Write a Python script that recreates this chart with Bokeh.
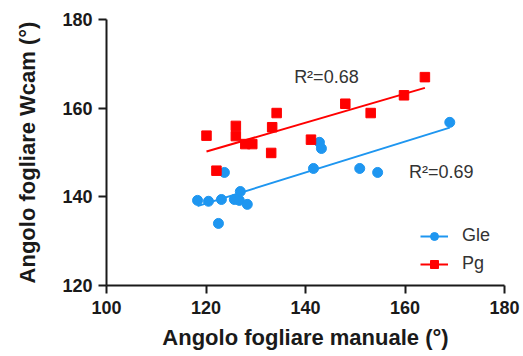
import numpy as np
from bokeh.plotting import figure
from bokeh.models import Range1d, FixedTicker, Label, Legend, LegendItem
from bokeh.embed import file_html
from bokeh.resources import INLINE

# ---- data ----
gle_x = [118.3, 120.5, 122.5, 123.1, 123.7, 125.7, 126.7, 126.9, 128.3, 141.6, 142.8, 143.2, 150.9, 154.5, 169.0]
gle_y = [139.2, 139.0, 134.0, 139.4, 145.5, 139.4, 139.2, 141.2, 138.3, 146.4, 152.3, 150.9, 146.4, 145.5, 156.8]

pg_x = [120.1, 122.1, 126.0, 126.0, 127.9, 129.3, 133.1, 133.3, 134.2, 141.1, 148.0, 153.1, 159.8, 164.0]
pg_y = [153.8, 145.9, 156.0, 153.7, 151.9, 151.9, 149.9, 155.7, 158.9, 152.9, 161.0, 158.9, 162.9, 167.0]

series_names = ["Gle", "Pg"]
r2_labels = ["R\u00b2=0.69", "R\u00b2=0.68"]
x_ticks = [100, 120, 140, 160, 180]
y_ticks = [120, 140, 160, 180]

BLUE = "#1E96F0"
RED = "#FF0000"
FONT = "Liberation Sans"

p = figure(width=523, height=356, output_backend="svg", toolbar_location=None,
           x_range=Range1d(100, 180), y_range=Range1d(120, 180),
           min_border_left=106, min_border_right=19, min_border_top=19, min_border_bottom=71)
p.outline_line_color = None
p.grid.visible = False
p.background_fill_color = "white"
p.border_fill_color = "white"

for ax, ticks in ((p.xaxis[0], x_ticks), (p.yaxis[0], y_ticks)):
    ax.ticker = FixedTicker(ticks=ticks)
    ax.axis_line_width = 2
    ax.axis_line_color = "#1a1a1a"
    ax.major_tick_line_width = 2
    ax.major_tick_line_color = "#1a1a1a"
    ax.major_tick_out = 8
    ax.major_tick_in = 0
    ax.minor_tick_line_color = None
    ax.major_label_text_font = FONT
    ax.major_label_text_font_style = "bold"
    ax.major_label_text_font_size = "18px"
    ax.major_label_text_color = "#1a1a1a"
    ax.axis_label_text_font = FONT
    ax.axis_label_text_font_style = "bold"
    ax.axis_label_text_font_size = "22px"
    ax.axis_label_text_color = "#1a1a1a"

p.xaxis[0].axis_label = "Angolo fogliare manuale (\u00b0)"
p.yaxis[0].axis_label = "Angolo fogliare Wcam (\u00b0)"
p.xaxis[0].major_label_standoff = 7
p.xaxis[0].axis_label_standoff = 8
p.yaxis[0].major_label_standoff = 6
p.yaxis[0].axis_label_standoff = 19

def fit_line(xs, ys):
    xs = np.asarray(xs); ys = np.asarray(ys)
    m, b = np.polyfit(xs, ys, 1)
    lx = np.array([xs.min(), xs.max()])
    return lx, m * lx + b

gx, gy = fit_line(gle_x, gle_y)
rx, ry = fit_line(pg_x, pg_y)

gl = p.line(gx, gy, line_color=BLUE, line_width=2)
rl = p.line(rx, ry, line_color=RED, line_width=2)
gs = p.scatter(gle_x, gle_y, marker="circle", size=10, fill_color=BLUE, line_color=BLUE)
rs = p.scatter(pg_x, pg_y, marker="square", size=9.5, fill_color=RED, line_color=RED)

for txt, (lx, ly) in zip(r2_labels, [(167.3, 145.5), (144.2, 167.0)]):
    p.add_layout(Label(x=lx, y=ly, text=txt, text_font=FONT, text_font_size="18px",
                       text_color="#333333", text_align="center", text_baseline="middle"))

legend = Legend(items=[LegendItem(label=series_names[0], renderers=[gl, gs]),
                       LegendItem(label=series_names[1], renderers=[rl, rs])],
                location=(314, 11), padding=0, margin=0, spacing=7,
                glyph_width=28, glyph_height=20, label_height=20, label_standoff=14,
                label_text_font=FONT, label_text_font_size="18px", label_text_color="#333333",
                background_fill_alpha=0, border_line_color=None)
p.add_layout(legend)

open("out.html", "w").write(file_html(p, INLINE))
